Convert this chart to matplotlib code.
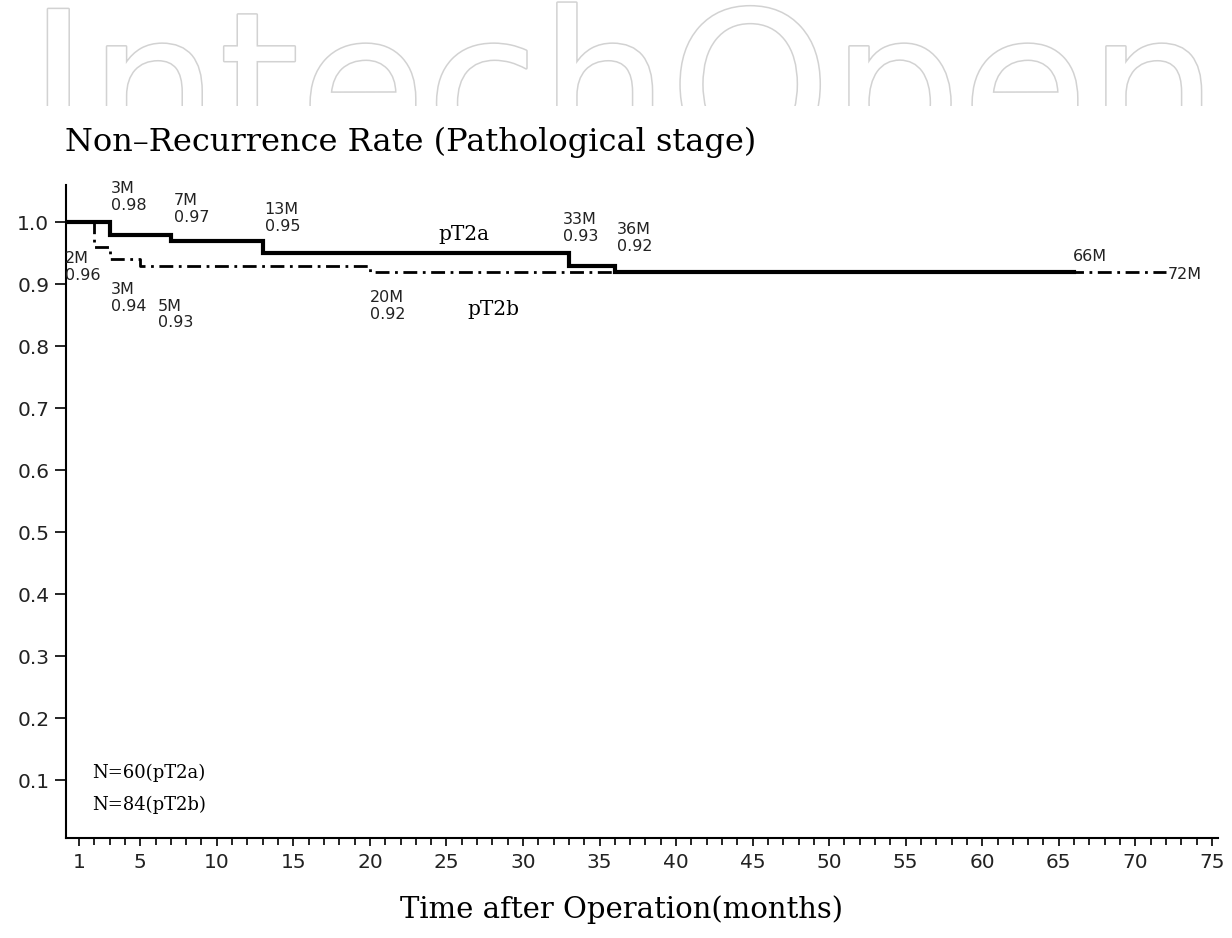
import matplotlib
matplotlib.use("Agg")
import matplotlib.pyplot as plt
import matplotlib.patheffects as pe
from matplotlib.ticker import MultipleLocator, FixedLocator

# Kaplan-Meier style step data (months, non-recurrence rate)
t2a_months = [0, 3, 7, 13, 33, 36, 66]
t2a_rate = [1.00, 0.98, 0.97, 0.95, 0.93, 0.92, 0.92]

t2b_months = [0, 2, 3, 5, 20, 72]
t2b_rate = [1.00, 0.96, 0.94, 0.93, 0.92, 0.92]

n_t2a = 60
n_t2b = 84

x_ticks = [1, 5, 10, 15, 20, 25, 30, 35, 40, 45, 50, 55, 60, 65, 70, 75]
y_ticks = [0.1, 0.2, 0.3, 0.4, 0.5, 0.6, 0.7, 0.8, 0.9, 1.0]

W, H = 1232, 938
fig = plt.figure(figsize=(W / 100, H / 100), dpi=100)
fig.patch.set_facecolor("white")

# publisher watermark, outlined and cut off at the bottom
wm = fig.add_axes([0, 1 - 106 / H, 1, 106 / H])
wm.set_axis_off()
wm.set_xlim(0, 1)
wm.set_ylim(0, 1)
wm.text(28 / W, (106 - 159) / 106, "IntechOpen", fontsize=148,
        family="DejaVu Sans", color="white", va="baseline", ha="left",
        clip_on=True,
        path_effects=[pe.Stroke(linewidth=2.2, foreground="#d2d2d2"), pe.Normal()])

ax = fig.add_axes([66 / W, (H - 838) / H, (1218 - 66) / W, (838 - 185) / H])
ax.set_xlim(0.15, 75.4)
ax.set_ylim(0.0065, 1.06)

ax.step(t2b_months, t2b_rate, where="post", color="black", lw=2.0,
        linestyle=(0, (5, 2, 1, 2)), zorder=2)
ax.step(t2a_months, t2a_rate, where="post", color="black", lw=3.0,
        solid_joinstyle="miter", zorder=3)

for s in ("top", "right"):
    ax.spines[s].set_visible(False)
for s in ("left", "bottom"):
    ax.spines[s].set_linewidth(1.5)

ax.xaxis.set_major_locator(FixedLocator(x_ticks))
ax.xaxis.set_minor_locator(MultipleLocator(1))
ax.set_xticklabels([str(v) for v in x_ticks])
ax.yaxis.set_major_locator(FixedLocator(y_ticks))
ax.set_yticklabels([f"{v:.1f}" for v in y_ticks])
ax.tick_params(axis="x", which="major", length=6, width=1.2, labelsize=14.5, pad=5)
ax.tick_params(axis="x", which="minor", length=5, width=1.2)
ax.tick_params(axis="y", length=8, width=1.2, labelsize=14.5, pad=4)
for lab in ax.get_xticklabels() + ax.get_yticklabels():
    lab.set_family("DejaVu Sans")
    lab.set_color("#222222")

lab_kw = dict(textcoords="offset pixels", fontsize=11.5, family="DejaVu Sans",
              color="#222222", linespacing=1.15, annotation_clip=False)

# step annotations for pT2a (above the curve)
t2a_offsets = {3: (1, 22), 7: (3, 16), 13: (2, 19), 33: (-6, 22), 36: (2, 18)}
for t, r in zip(t2a_months, t2a_rate):
    if t in t2a_offsets:
        dx, dy = t2a_offsets[t]
        ax.annotate(f"{t}M\n{r:.2f}", xy=(t, r), xytext=(dx, dy),
                    ha="left", va="bottom", **lab_kw)
ax.annotate(f"{t2a_months[-1]}M", xy=(t2a_months[-1], t2a_rate[-1]),
            xytext=(-1, 8), ha="left", va="bottom", **lab_kw)

# step annotations for pT2b (below the curve)
t2b_offsets = {2: (-29, -4), 3: (1, -23), 5: (18, -33), 20: (0, -18)}
for t, r in zip(t2b_months, t2b_rate):
    if t in t2b_offsets:
        dx, dy = t2b_offsets[t]
        ax.annotate(f"{t}M\n{r:.2f}", xy=(t, r), xytext=(dx, dy),
                    ha="left", va="top", **lab_kw)
ax.annotate(f"{t2b_months[-1]}M", xy=(t2b_months[-1], t2b_rate[-1]),
            xytext=(2, -3), ha="left", va="center", **lab_kw)

serif = "DejaVu Serif"
ax.text(24.45, 0.971, "pT2a", fontsize=14.5, family=serif, ha="left", va="baseline")
ax.text(26.4, 0.850, "pT2b", fontsize=14.5, family=serif, ha="left", va="baseline")
ax.text(1.85, 0.111, f"N={n_t2a}(pT2a)", fontsize=13, family=serif, ha="left", va="center")
ax.text(1.85, 0.060, f"N={n_t2b}(pT2b)", fontsize=13, family=serif, ha="left", va="center")

fig.text(65 / W, 1 - 151 / H, "Non\u2013Recurrence Rate (Pathological stage)",
         fontsize=23, family=serif, ha="left", va="baseline")
fig.text(622 / W, 1 - 918 / H, "Time after Operation(months)",
         fontsize=21, family=serif, ha="center", va="baseline")

fig.savefig("out.png", dpi=100, facecolor="white")
